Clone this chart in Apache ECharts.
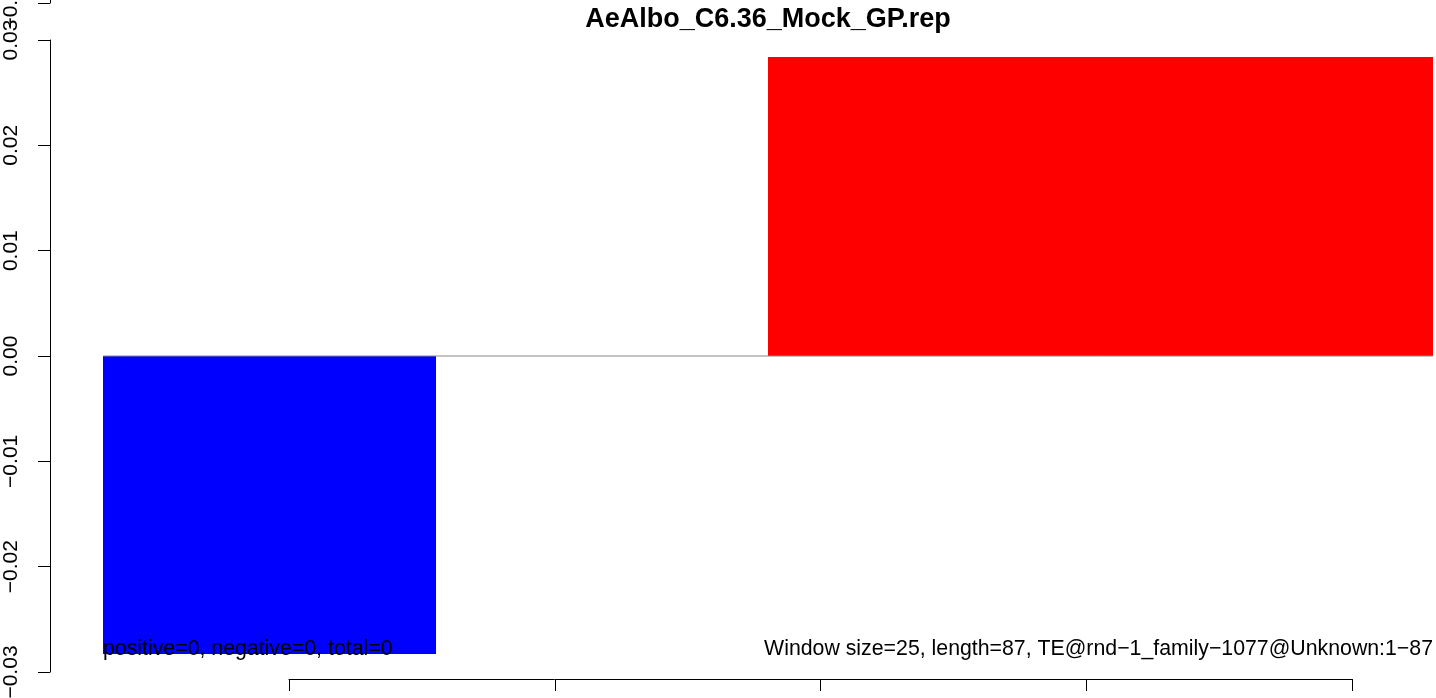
<!DOCTYPE html>
<html>
<head>
<meta charset="utf-8">
<script src="https://cdn.jsdelivr.net/npm/echarts@6/dist/echarts.min.js"></script>
<style>
html,body{margin:0;padding:0;background:#fff;}
#chart{width:1436px;height:698px;}
</style>
</head>
<body>
<div id="chart"></div>
<script>
// ---- data ----
const title = 'AeAlbo_C6.36_Mock_GP.rep';
const binStart = [0, 25, 50, 75];
const binEnd = [25, 50, 75, 100];
const binValues = [-0.0283, 0, 0.0284, 0.0284];
const zeroLineX = [0, 100];
const xTicks = [14, 34, 54, 74, 94];
const yTicks = [-0.03, -0.02, -0.01, 0, 0.01, 0.02, 0.03];
const leftNote = 'positive=0, negative=0, total=0';
const rightNote = 'Window size=25, length=87, TE@rnd\u22121_family\u22121077@Unknown:1\u221287';

const FONT = 'Liberation Sans, Arial, Helvetica, sans-serif';
const fmt = v => v.toFixed(2).replace('-', '\u2212');

const chart = echarts.init(document.getElementById('chart'), null, {renderer: 'canvas'});

const yRange = {type: 'value', min: yTicks[0], max: yTicks[yTicks.length - 1], interval: 0.01};

const yAxisVisible = Object.assign({}, yRange, {
  position: 'left',
  axisLine: {show: true, onZero: false, lineStyle: {color: '#000', width: 1}},
  axisTick: {show: true, length: 12, lineStyle: {color: '#000', width: 1}},
  axisLabel: {
    show: true, rotate: 90, margin: 28, color: '#000',
    fontFamily: FONT, fontSize: 21, formatter: fmt
  },
  splitLine: {show: false}
});

const hiddenX = {
  type: 'value', min: -4, max: 104, show: false,
  axisLine: {show: false, onZero: false},
  axisTick: {show: false}, axisLabel: {show: false}, splitLine: {show: false}
};

const gridCommon = {containLabel: false, outerBoundsMode: 'none'};

const option = {
  animation: false,
  backgroundColor: '#fff',
  grid: [
    // 0: data area
    Object.assign({left: 50, top: 40, width: 1436, height: 632}, gridCommon),
    // 1: overlapping axis of a neighbouring panel (only its bottom tick is visible)
    Object.assign({left: 50, top: -629, width: 1436, height: 632}, gridCommon),
    // 2: bottom tick axis
    Object.assign({left: 289, top: 678, width: 1063, height: 1}, gridCommon),
    // 3: y axis (same box as grid 0)
    Object.assign({left: 50, top: 40, width: 1436, height: 632}, gridCommon)
  ],
  xAxis: [
    Object.assign({gridIndex: 0}, hiddenX),
    Object.assign({gridIndex: 1}, hiddenX),
    {gridIndex: 2, type: 'value', min: xTicks[0], max: xTicks[xTicks.length - 1],
     position: 'bottom',
     axisLine: {show: true, onZero: false, lineStyle: {color: '#000', width: 1}},
     axisTick: {show: true, length: 12, customValues: xTicks, lineStyle: {color: '#000', width: 1}},
     axisLabel: {show: false},
     splitLine: {show: false}},
    Object.assign({gridIndex: 3}, hiddenX)
  ],
  yAxis: [
    Object.assign({gridIndex: 0, show: false}, yRange),
    Object.assign({gridIndex: 1}, yAxisVisible),
    {gridIndex: 2, type: 'value', show: false},
    Object.assign({gridIndex: 3}, yAxisVisible)
  ],
  graphic: [
    {type: 'text', x: 768, y: 20, style: {text: title, font: 'bold 27px ' + FONT, fill: '#000', align: 'center', verticalAlign: 'middle'}},
    {type: 'text', x: 103, y: 649, z: 10, style: {text: leftNote, font: '21.3px ' + FONT, fill: '#000', align: 'left', verticalAlign: 'middle'}},
    {type: 'text', x: 1433, y: 649, z: 10, style: {text: rightNote, font: '21.3px ' + FONT, fill: '#000', align: 'right', verticalAlign: 'middle'}}
  ],
  series: [
    {
      type: 'custom',
      xAxisIndex: 0, yAxisIndex: 0,
      data: binValues.map((v, i) => [binStart[i], binEnd[i], v]),
      renderItem: function (params, api) {
        const v = api.value(2);
        if (v === 0) return null;
        const p0 = api.coord([api.value(0), v]);
        const p1 = api.coord([api.value(1), 0]);
        const x0 = Math.round(p0[0]), x1 = Math.round(p1[0]);
        const y0 = Math.round(Math.min(p0[1], p1[1])), y1 = Math.round(Math.max(p0[1], p1[1]));
        return {
          type: 'rect',
          shape: {x: x0, y: y0, width: x1 - x0, height: y1 - y0},
          style: {fill: v > 0 ? '#ff0000' : '#0000ff'}
        };
      },
      encode: {x: [0, 1], y: 2},
      silent: true
    },
    {
      type: 'line',
      xAxisIndex: 0, yAxisIndex: 0,
      data: zeroLineX.map(x => [x, 0]),
      symbol: 'none',
      lineStyle: {color: '#888888', width: 1},
      z: 5, silent: true
    }
  ]
};
chart.setOption(option);
</script>
</body>
</html>
